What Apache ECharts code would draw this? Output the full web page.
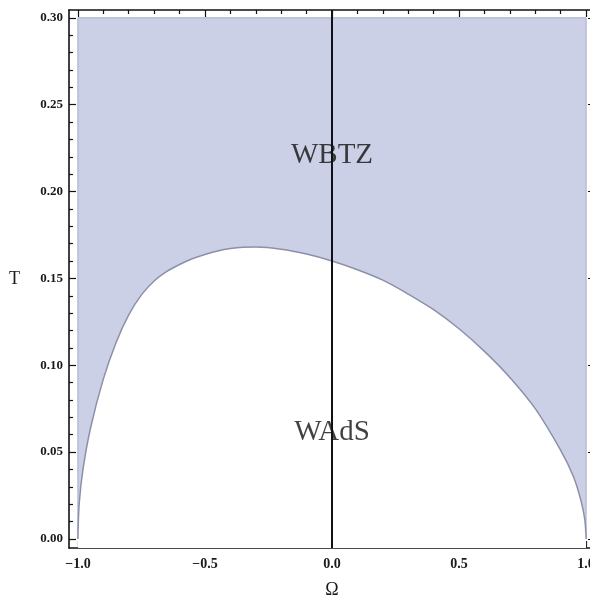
<!DOCTYPE html>
<html><head><meta charset="utf-8">
<script src="https://cdn.jsdelivr.net/npm/echarts@6/dist/echarts.min.js"></script>
<style>html,body{margin:0;padding:0;background:#fff}#c{width:590px;height:597px}</style>
</head><body><div id="c"></div>
<script>
// boundary curve T(a) between WAdS (below) and WBTZ (above)
const aValues = [-1, -0.995, -0.98, -0.95, -0.9, -0.85, -0.8, -0.75, -0.7, -0.65, -0.6, -0.55, -0.5, -0.45, -0.4, -0.35, -0.3, -0.2, -0.1, 0, 0.1, 0.2, 0.3, 0.4, 0.5, 0.6, 0.7, 0.8, 0.9, 0.95, 0.98, 0.995, 1];
const tValues = [0, 0.02, 0.04, 0.064, 0.092, 0.113, 0.129, 0.1405, 0.1485, 0.1540, 0.158, 0.1613, 0.1638, 0.1658, 0.1672, 0.1679, 0.1680, 0.1668, 0.164, 0.160, 0.155, 0.149, 0.141, 0.132, 0.121, 0.108, 0.093, 0.075, 0.051, 0.036, 0.022, 0.011, 0];
const aRange = [-1, 1];
const tRange = [0, 0.30];
const regionNames = ['WBTZ', 'WAdS'];
const regionA = [0, 0];
const regionT = [0.221, 0.0616];
const xMajorTicks = [-1, -0.5, 0, 0.5, 1];
const xMinorTicks = [-0.9, -0.8, -0.7, -0.6, -0.4, -0.3, -0.2, -0.1, 0.1, 0.2, 0.3, 0.4, 0.6, 0.7, 0.8, 0.9];
const yMajorTicks = [0, 0.05, 0.10, 0.15, 0.20, 0.25, 0.30];
const yMinorTicks = [0.01,0.02,0.03,0.04,0.06,0.07,0.08,0.09,0.11,0.12,0.13,0.14,0.16,0.17,0.18,0.19,0.21,0.22,0.23,0.24,0.26,0.27,0.28,0.29];

const serif = '"Liberation Serif","DejaVu Serif",serif';
const XMIN = -1.035, XMAX = 1.035, YMIN = -0.0052, YMAX = 0.3045;
const lineStyle = {color: '#111', width: 1.6};

function xAx(pos, major, showLine, showLabel) {
  return {
    type: 'value', position: pos, min: XMIN, max: XMAX,
    axisLine: {show: showLine, onZero: false, lineStyle},
    splitLine: {show: false},
    axisTick: {show: true, inside: true, length: major ? 7 : 4, lineStyle: {color: '#111', width: 1.2},
      customValues: major ? xMajorTicks : xMinorTicks},
    axisLabel: {show: showLabel, customValues: xMajorTicks, margin: 9,
      fontFamily: serif, fontSize: 14, fontWeight: 'bold', color: '#1a1a1a',
      formatter: v => v.toFixed(1).replace('-', '\u2212')},
    name: showLabel ? '\u03A9' : '', nameLocation: 'middle', nameGap: 33,
    nameTextStyle: {fontFamily: serif, fontSize: 18, color: '#1a1a1a'}
  };
}
function yAx(pos, major, showLine, showLabel) {
  return {
    type: 'value', position: pos, min: YMIN, max: YMAX,
    axisLine: {show: showLine, onZero: false, lineStyle},
    splitLine: {show: false},
    axisTick: {show: true, inside: true, length: major ? 7 : 4, lineStyle: {color: '#111', width: 1.2},
      customValues: major ? yMajorTicks : yMinorTicks},
    axisLabel: {show: showLabel, customValues: yMajorTicks, margin: 6,
      fontFamily: serif, fontSize: 13, fontWeight: 'bold', color: '#1a1a1a',
      formatter: v => v.toFixed(2)},
    name: showLabel ? 'T' : '', nameLocation: 'middle', nameGap: 49, nameRotate: 0,
    nameTextStyle: {fontFamily: serif, fontSize: 18, color: '#1a1a1a'}
  };
}

const curve = aValues.map((a, i) => [a, tValues[i]]);
const labels = regionNames.map((n, i) => ({name: n, value: [regionA[i], regionT[i]]}));

const chart = echarts.init(document.getElementById('c'), null, {renderer: 'canvas'});
chart.setOption({
  animation: false,
  grid: {left: 69, top: 10, width: 526, height: 538, containLabel: false, outerBoundsMode: 'none'},
  xAxis: [xAx('bottom', true, true, true), xAx('bottom', false, false, false),
          xAx('top', true, true, false), xAx('top', false, false, false)],
  yAxis: [yAx('left', true, true, true), yAx('left', false, false, false),
          yAx('right', true, true, false), yAx('right', false, false, false)],
  series: [
    {type: 'line', data: [], z: 1,
     markArea: {silent: true, itemStyle: {color: '#ccd0e6', opacity: 1, borderColor: '#a8adc4', borderWidth: 1},
       data: [[{coord: [aRange[0], tRange[0]]}, {coord: [aRange[1], tRange[1]]}]]}},
    {type: 'line', data: curve, smooth: 0.3, symbol: 'none', z: 3,
     lineStyle: {color: '#8c90a8', width: 1.5},
     areaStyle: {color: '#ffffff', opacity: 1, origin: 'start'},
     markLine: {silent: true, symbol: 'none', label: {show: false},
       lineStyle: {color: '#111', width: 2, type: 'solid'}, data: [{xAxis: 0}]}},
    {type: 'scatter', data: labels, symbolSize: 0, z: 5,
     label: {show: true, position: 'inside', formatter: p => p.name,
       fontFamily: serif, fontSize: 29, color: '#111'}}
  ]
});
</script></body></html>
